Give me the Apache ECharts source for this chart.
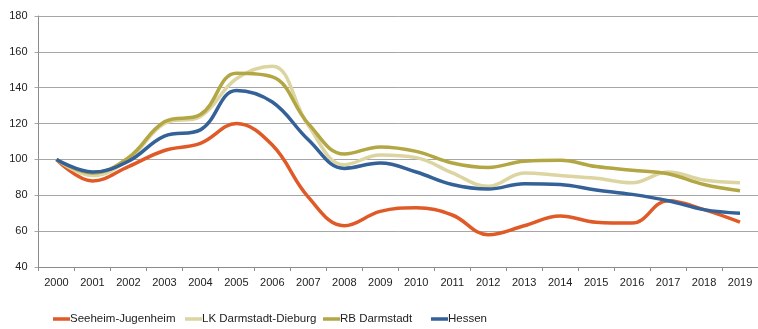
<!DOCTYPE html>
<html>
<head>
<meta charset="utf-8">
<script src="https://cdn.jsdelivr.net/npm/echarts@6/dist/echarts.min.js"></script>
<style>
  html, body { margin: 0; padding: 0; background: #fff; }
  #chart { width: 758px; height: 329px; }
</style>
</head>
<body>
<div id="chart"></div>
<script>
// Index values (2000 = 100)
const years = ['2000','2001','2002','2003','2004','2005','2006','2007','2008','2009',
               '2010','2011','2012','2013','2014','2015','2016','2017','2018','2019'];
const seeheim = [100, 88, 96, 105, 109, 120, 108, 79, 63, 71, 73, 69, 58, 63, 68.5, 65, 64.5, 77, 72, 65];
const lkDarmstadt = [100, 91, 100, 120, 124, 145, 152, 119, 97, 102.5, 101, 92.5, 85, 92.5, 91, 89.5, 87, 93, 88.5, 87];
const rbDarmstadt = [100, 92.5, 101, 121, 125, 148, 146, 120, 103, 107, 104.5, 98, 95.5, 99, 99.5, 96, 94, 92, 86, 82.5];
const hessen = [100, 93, 99, 113, 116.5, 138.5, 132, 111, 95, 98, 93, 86, 83.5, 86.5, 86, 83, 80.5, 77, 72, 70];
const yTicks = [40, 60, 80, 100, 120, 140, 160, 180];
const seriesNames = ['Seeheim-Jugenheim', 'LK Darmstadt-Dieburg', 'RB Darmstadt', 'Hessen'];
const seriesColors = ['#e05a27', '#ddd5a1', '#b3a644', '#336198'];

const font = '"Liberation Sans", Arial, sans-serif';
const gridColor = '#a6a6a6';

function line(name, data, color, z) {
  return {
    name, type: 'line', data, smooth: 0.4, symbol: 'none', z,
    lineStyle: { color, width: 3.5 },
    itemStyle: { color }
  };
}

// one legend block per series so each entry keeps its own slot
const legendLeft = [53, 185, 323, 431];
const legends = seriesNames.map((n, i) => ({
  left: legendLeft[i], top: 313, padding: 0,
  itemWidth: 17, itemHeight: 3.5, icon: 'rect',
  textStyle: { fontFamily: font, fontSize: 11.5, color: '#222', padding: [0, 0, 0, -5] },
  data: [n]
}));

const chart = echarts.init(document.getElementById('chart'), null, { renderer: 'canvas' });
chart.setOption({
  animation: false,
  backgroundColor: '#ffffff',
  grid: { left: 38.5, top: 16, width: 723, height: 251, containLabel: false },
  legend: legends,
  xAxis: {
    type: 'category', data: years, boundaryGap: true,
    axisLine: { lineStyle: { color: '#8c8c8c', width: 1 } },
    axisTick: { show: true, length: 4, lineStyle: { color: '#8c8c8c' } },
    axisLabel: { fontFamily: font, fontSize: 11, color: '#222', margin: 10, interval: 0 }
  },
  yAxis: {
    type: 'value', min: 40, max: 180, interval: 20,
    axisLine: { show: true, lineStyle: { color: '#8c8c8c', width: 1 } },
    axisTick: { show: true, length: 4, lineStyle: { color: gridColor } },
    axisLabel: {
      fontFamily: font, fontSize: 11, color: '#222', margin: 11,
      formatter: v => (yTicks.includes(v) ? String(v) : '')
    },
    splitLine: { show: true, lineStyle: { color: gridColor, width: 1 } }
  },
  series: seriesNames.map((n, i) =>
    line(n, [seeheim, lkDarmstadt, rbDarmstadt, hessen][i], seriesColors[i], 2 + i))
});
</script>
</body>
</html>
